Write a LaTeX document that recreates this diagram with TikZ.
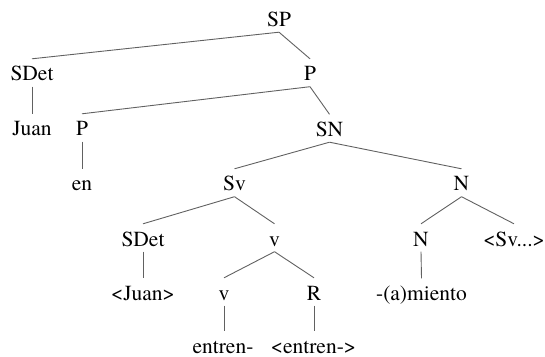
\documentclass[tikz,border=0pt]{standalone}
\usepackage{fontspec}
\newfontfamily\treefont{texgyretermes-regular.otf}
\begin{document}
\begin{tikzpicture}[x=1pt,y=1pt,
  lbl/.style={inner sep=0pt, anchor=base, text height=22pt, text depth=5.5pt,
              font=\treefont\fontsize{21.5}{25}\selectfont},
  branch/.style={draw=black!62, line width=0.9pt}]
\useasboundingbox (0,0) rectangle (545,356);
% level 1
\node[lbl] (sp)     at (279,329.5) {SP};
% level 2
\node[lbl] (sdetA)  at (32,275)   {SDet};
\node[lbl] (pA)     at (310,275)  {P};
% level 3
\node[lbl] (juan)   at (32,220)   {Juan};
\node[lbl] (pB)     at (82,220)   {P};
\node[lbl] (sn)     at (329.5,219.5) {SN};
% level 4
\node[lbl] (en)     at (82,165)   {en};
\node[lbl] (sv)     at (234.5,165) {Sv};
\node[lbl] (nA)     at (461.5,165) {N};
% level 5
\node[lbl] (sdetB)  at (143,110)  {SDet};
\node[lbl] (vA)     at (274.5,110) {v};
\node[lbl] (nB)     at (421,110)  {N};
\node[lbl] (svdots) at (514,110)  {<Sv...>};
% level 6
\node[lbl] (ajuan)  at (143,55.5) {<Juan>};
\node[lbl] (vB)     at (224,56)   {v};
\node[lbl] (r)      at (314,56)   {R};
\node[lbl] (mien)   at (421.5,55.5) {-(a)miento};
% level 7
\node[lbl] (entr)   at (223,3)    {entren-};
\node[lbl] (aentr)  at (313.5,3)  {<entren->};
% branches
\draw[branch] (sp.south) -- (sdetA.north);
\draw[branch] (sp.south) -- (pA.north);
\draw[branch] (sdetA.south) -- (juan.north);
\draw[branch] (pA.south) -- (pB.north);
\draw[branch] (pA.south) -- (sn.north);
\draw[branch] (pB.south) -- (en.north);
\draw[branch] (sn.south) -- (sv.north);
\draw[branch] (sn.south) -- (nA.north);
\draw[branch] (sv.south) -- (sdetB.north);
\draw[branch] (sv.south) -- (vA.north);
\draw[branch] (nA.south) -- (nB.north);
\draw[branch] (nA.south) -- (svdots.north);
\draw[branch] (sdetB.south) -- (ajuan.north);
\draw[branch] (vA.south) -- (vB.north);
\draw[branch] (vA.south) -- (r.north);
\draw[branch] (nB.south) -- (mien.north);
\draw[branch] (vB.south) -- (vB.south |- entr.north);
\draw[branch] (r.south) -- (r.south |- aentr.north);
\end{tikzpicture}
\end{document}
